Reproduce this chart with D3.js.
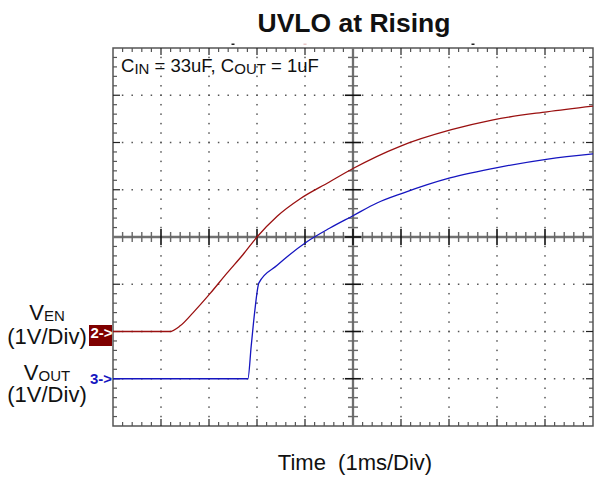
<!DOCTYPE html>
<html><head><meta charset="utf-8">
<script src="https://cdn.jsdelivr.net/npm/d3@7"></script>
<style>body{margin:0;background:#fff}svg{display:block;font-family:"Liberation Sans",Arial,sans-serif}</style>
</head><body><svg id="c" width="594" height="477"></svg>
<script>
// ---- data (time in ms, level in divisions relative to centre line) ----
const venTime  = [0, 1.18, 1.4, 1.67, 2.02, 2.37, 2.71, 3.0, 3.42, 3.9, 4.5, 5.0, 5.98, 7.05, 7.92, 9.04, 10];
const venLevel = [-2, -2, -1.88, -1.6, -1.2, -0.77, -0.37, 0, 0.44, 0.81, 1.16, 1.45, 1.92, 2.27, 2.48, 2.65, 2.77];
const voutTime  = [0, 2.81, 2.88, 2.95, 3.04, 3.42, 4.04, 4.52, 5.0, 5.5, 6.04, 7.02, 8.06, 9.06, 10];
const voutLevel = [-3, -3, -2.3, -1.6, -0.97, -0.6, -0.1, 0.19, 0.45, 0.72, 0.93, 1.25, 1.48, 1.65, 1.76];
const timeDivs = [0,1,2,3,4,5,6,7,8,9,10];
const levelDivs = [-4,-3,-2,-1,0,1,2,3,4];
const topMarkers = [2.5, 4, 7.5];
const title = "UVLO at Rising";
const xLabel = "Time\u00A0 (1ms/Div)";

const svg = d3.select("#c");
const x = d3.scaleLinear().domain([0,10]).range([113,593]);
const y = d3.scaleLinear().domain([-4,4]).range([426,48]);
const X0 = x(0), X1 = x(10), Y0 = y(4), Y1 = y(-4), XC = x(5), YC = y(0);

// dotted grid
const g = svg.append("g");
const minorT = d3.range(0, 50.5).map(i => i/5);
const minorL = d3.range(-20, 20.5).map(i => i/5);
timeDivs.filter(t => t>0 && t<10 && t!==5).forEach(t => {
  minorL.filter(l => l>-4 && l<4).forEach(l => g.append("rect").attr("x", x(t)-0.75).attr("y", y(l)-0.75).attr("width",1.5).attr("height",1.5).attr("fill","#555"));
});
levelDivs.filter(l => l>-4 && l<4 && l!==0).forEach(l => {
  minorT.filter(t => t>0 && t<10).forEach(t => g.append("rect").attr("x", x(t)-0.75).attr("y", y(l)-0.75).attr("width",1.5).attr("height",1.5).attr("fill","#555"));
});

// border
g.append("rect").attr("x",X0).attr("y",Y0).attr("width",X1-X0).attr("height",Y1-Y0).attr("fill","none").attr("stroke","#555").attr("stroke-width",1.5);

// border ticks
const isMajor = v => Math.abs(v - Math.round(v)) < 1e-6;
minorT.filter(t => t>0 && t<10).forEach(t => {
  const len = isMajor(t) ? 7 : 4;
  const col = isMajor(t) ? "#222" : "#555";
  g.append("line").attr("x1",x(t)).attr("x2",x(t)).attr("y1",Y0).attr("y2",Y0+len).attr("stroke",col).attr("stroke-width",1.2);
  g.append("line").attr("x1",x(t)).attr("x2",x(t)).attr("y1",Y1).attr("y2",Y1-len).attr("stroke",col).attr("stroke-width",1.2);
});
minorL.filter(l => l>-4 && l<4).forEach(l => {
  const len = isMajor(l) ? 7 : 4;
  const col = isMajor(l) ? "#222" : "#555";
  g.append("line").attr("x1",X0).attr("x2",X0+len).attr("y1",y(l)).attr("y2",y(l)).attr("stroke",col).attr("stroke-width",1.2);
  g.append("line").attr("x1",X1).attr("x2",X1-len).attr("y1",y(l)).attr("y2",y(l)).attr("stroke",col).attr("stroke-width",1.2);
});

// centre axes
g.append("line").attr("x1",X0).attr("x2",X1).attr("y1",YC).attr("y2",YC).attr("stroke","#707070").attr("stroke-width",2.3);
g.append("line").attr("x1",XC).attr("x2",XC).attr("y1",Y0).attr("y2",Y1).attr("stroke","#707070").attr("stroke-width",2.3);
minorT.filter(t => t>0 && t<10).forEach(t => {
  const maj = isMajor(t);
  g.append("line").attr("x1",x(t)).attr("x2",x(t)).attr("y1",YC-(maj?8:5)).attr("y2",YC+(maj?8:5)).attr("stroke",maj?"#111":"#666").attr("stroke-width",maj?1.6:1.4);
});
minorL.filter(l => l>-4 && l<4).forEach(l => {
  const maj = isMajor(l);
  g.append("line").attr("x1",XC-(maj?8:5)).attr("x2",XC+(maj?8:5)).attr("y1",y(l)).attr("y2",y(l)).attr("stroke",maj?"#111":"#666").attr("stroke-width",maj?1.6:1.4);
});

// top markers
topMarkers.forEach((t,i) => g.append("rect").attr("x",x(t)-1.5).attr("y",Y0-4.5).attr("width",3).attr("height",1.5).attr("fill", i===1 ? "#e8c8c8" : "#222"));

// traces
const line = d3.line().x(d => x(d[0])).y(d => y(d[1])).curve(d3.curveMonotoneX);
svg.append("path").datum(venTime.map((t,i)=>[t,venLevel[i]])).attr("d",line).attr("fill","none").attr("stroke","#9a1010").attr("stroke-width",1.3);
svg.append("path").datum(voutTime.map((t,i)=>[t,voutLevel[i]])).attr("d",line).attr("fill","none").attr("stroke","#1515c0").attr("stroke-width",1.3);

// channel markers
svg.append("rect").attr("x",89).attr("y",y(venLevel[0])-6.5).attr("width",23).attr("height",21).attr("fill","#7f0000");
svg.append("text").attr("x",90.5).attr("y",y(venLevel[0])+6).attr("font-size",15).attr("font-weight","bold").attr("fill","#fff").text("2->");
svg.append("text").attr("x",90).attr("y",y(voutLevel[0])+5).attr("font-size",15).attr("font-weight","bold").attr("fill","#1515c0").text("3->");

// title
svg.append("text").attr("x",354).attr("y",32).attr("text-anchor","middle").attr("font-size",26.5).attr("font-weight","bold").attr("fill","#111").text(title);

// annotation
const ann = svg.append("text").attr("x",121).attr("y",72).attr("font-size",18.5).attr("fill","#111");
ann.append("tspan").text("C");
ann.append("tspan").attr("font-size",15).attr("dy",2).text("IN");
ann.append("tspan").attr("dy",-2).text(" = 33uF, C");
ann.append("tspan").attr("font-size",15).attr("dy",2).text("OUT");
ann.append("tspan").attr("dy",-2).text(" = 1uF");

// channel labels
function vLabel(yb, sub) {
  const t = svg.append("text").attr("x",47).attr("y",yb).attr("text-anchor","middle").attr("font-size",22).attr("fill","#111");
  t.append("tspan").text("V");
  t.append("tspan").attr("font-size",15).attr("dy",1).text(sub);
}
vLabel(320, "EN");
svg.append("text").attr("x",47).attr("y",344).attr("text-anchor","middle").attr("font-size",22).attr("fill","#111").text("(1V/Div)");
vLabel(380, "OUT");
svg.append("text").attr("x",47).attr("y",402).attr("text-anchor","middle").attr("font-size",22).attr("fill","#111").text("(1V/Div)");

// x label
svg.append("text").attr("x",355).attr("y",470).attr("text-anchor","middle").attr("font-size",22).attr("fill","#111").text(xLabel);
</script></body></html>
